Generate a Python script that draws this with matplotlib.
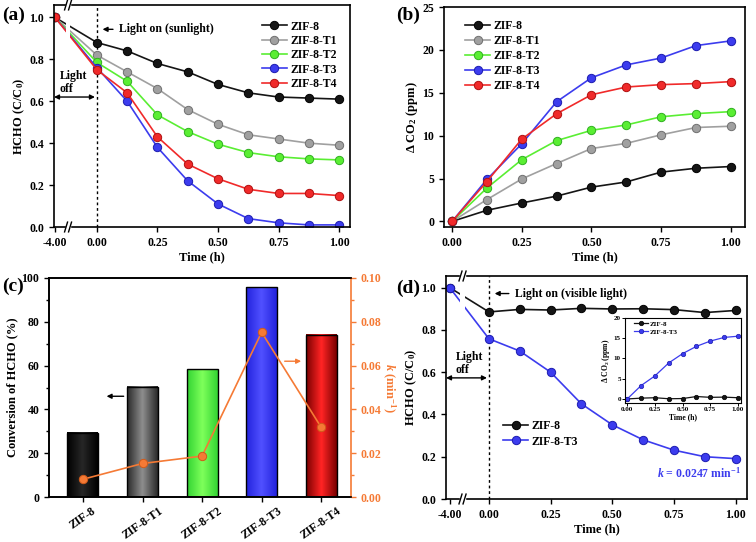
import numpy as np
import matplotlib
matplotlib.use('Agg')
import matplotlib.pyplot as plt
from matplotlib.colors import LinearSegmentedColormap
from matplotlib.patches import Rectangle
from matplotlib.ticker import MultipleLocator

plt.rcParams['font.family'] = 'Liberation Serif'
plt.rcParams['font.weight'] = 'bold'
plt.rcParams['axes.labelweight'] = 'bold'
plt.rcParams['font.size'] = 8.5
plt.rcParams['mathtext.fontset'] = 'custom'
plt.rcParams['mathtext.rm'] = 'Liberation Serif:bold'
plt.rcParams['mathtext.it'] = 'Liberation Serif:italic:bold'
plt.rcParams['mathtext.bf'] = 'Liberation Serif:bold'
plt.rcParams['xtick.direction'] = 'out'
plt.rcParams['ytick.direction'] = 'out'
plt.rcParams['xtick.major.size'] = 3.5
plt.rcParams['ytick.major.size'] = 3.5
plt.rcParams['xtick.major.width'] = 1
plt.rcParams['ytick.major.width'] = 1
plt.rcParams['axes.linewidth'] = 1.2

# ---- data ----
samples = ['ZIF-8', 'ZIF-8-T1', 'ZIF-8-T2', 'ZIF-8-T3', 'ZIF-8-T4']
colors = ['#151515', '#a0a0a0', '#5aee33', '#3c3cee', '#f02a2a']
edges = ['#000000', '#707070', '#30b020', '#1c1cb0', '#b01010']

t_dark = -4.0
t_light = [0, 0.125, 0.25, 0.375, 0.5, 0.625, 0.75, 0.875, 1.0]

# (a) HCHO C/C0 under sunlight, first point is dark (-4 h)
a_zif8 = [1.0, 0.88, 0.84, 0.78, 0.74, 0.68, 0.64, 0.62, 0.615, 0.61]
a_t1 = [1.0, 0.82, 0.74, 0.66, 0.56, 0.49, 0.44, 0.42, 0.40, 0.39]
a_t2 = [1.0, 0.785, 0.695, 0.535, 0.455, 0.395, 0.355, 0.335, 0.325, 0.32]
a_t3 = [1.0, 0.76, 0.60, 0.38, 0.22, 0.11, 0.04, 0.02, 0.01, 0.01]
a_t4 = [1.0, 0.75, 0.64, 0.43, 0.30, 0.23, 0.18, 0.16, 0.16, 0.15]

# (b) delta CO2 (ppm)
b_zif8 = [0, 1.3, 2.15, 2.95, 4.0, 4.6, 5.75, 6.2, 6.4]
b_t1 = [0, 2.55, 4.95, 6.75, 8.5, 9.1, 10.1, 10.95, 11.1]
b_t2 = [0, 3.9, 7.2, 9.42, 10.62, 11.25, 12.2, 12.57, 12.8]
b_t3 = [0, 4.9, 9.05, 13.95, 16.75, 18.25, 19.05, 20.5, 21.05]
b_t4 = [0, 4.65, 9.6, 12.55, 14.77, 15.67, 15.95, 16.07, 16.3]

# (c) conversion and rate constant
conversion = [29.3, 50.4, 58.3, 95.8, 74.2]
k_rate = [0.0081, 0.0153, 0.0187, 0.0752, 0.0318]

# (d) visible light
d_zif8 = [1.0, 0.885, 0.897, 0.894, 0.902, 0.899, 0.900, 0.896, 0.882, 0.892]
d_t3 = [1.0, 0.758, 0.700, 0.600, 0.450, 0.351, 0.280, 0.231, 0.200, 0.191]
ins_zif8 = [0, 0.2, 0.3, 0.05, 0.1, 0.6, 0.4, 0.45, 0.3]
ins_t3 = [0, 3.3, 5.7, 8.9, 11.2, 13.0, 14.3, 15.2, 15.5]

W, H = 756, 542
fig = plt.figure(figsize=(W / 100, H / 100), dpi=100)


def px_axes(l, t, r, b):
    return fig.add_axes([l / W, 1 - b / H, (r - l) / W, (b - t) / H])


def axis_break(ax, xb, gap_data):
    x0, x1 = ax.get_xlim()
    f = (xb - x0) / (x1 - x0)
    g = 0.0135
    ax.axvspan(xb - gap_data / 2, xb + gap_data / 2, color='white', zorder=2.2, lw=0)
    for yy in (0, 1):
        ax.add_patch(Rectangle((f - g / 2, yy - 0.02), g, 0.04, transform=ax.transAxes,
                               color='white', clip_on=False, zorder=5))
        for dx in (-g / 2, g / 2):
            ax.plot([f + dx - 0.005, f + dx + 0.005], [yy - 0.022, yy + 0.022],
                    transform=ax.transAxes, color='k', lw=1, clip_on=False, zorder=6)


def series(ax, x, y, i, label, ms=6):
    ax.plot(x, y, '-o', color=colors[i], lw=1.2, ms=ms, mfc=colors[i],
            mec=edges[i], mew=0.7, label=label, zorder=2)


def light_marks(ax, xd, y_on, x_on_text, text_on, y_off_text, y_off_arrow, x_left, x_off_text):
    ax.axvline(0, color='k', ls=(0, (2, 2)), lw=1, zorder=1)
    ax.annotate('', xy=(0.012, y_on), xytext=(x_on_text - 0.012, y_on),
                arrowprops=dict(arrowstyle='-|>', color='k', lw=1, mutation_scale=7))
    ax.text(x_on_text, y_on, text_on, ha='left', va='center')
    ax.text(x_off_text, y_off_text, 'Light\noff', ha='left', va='center', linespacing=1.05)
    ax.annotate('', xy=(x_left, y_off_arrow), xytext=(-0.008, y_off_arrow),
                arrowprops=dict(arrowstyle='<|-|>', color='k', lw=1, mutation_scale=7,
                                shrinkA=0, shrinkB=0))


# ---------------- (a) ----------------
xa_dark = -0.173
xa = [xa_dark] + t_light
ax = px_axes(54, 5, 350, 227)
for i, (y, lab) in enumerate(zip([a_zif8, a_t1, a_t2, a_t3, a_t4], samples)):
    series(ax, xa, y, i, lab)
ax.set_xlim(-0.177, 1.045)
ax.set_ylim(0, 1.059)
ax.set_xticks([xa_dark, 0, 0.25, 0.5, 0.75, 1.0])
ax.set_xticklabels(['-4.00', '0.00', '0.25', '0.50', '0.75', '1.00'])
ax.set_yticks(np.arange(0, 1.01, 0.2))
ax.set_yticklabels(['%.1f' % v for v in np.arange(0, 1.01, 0.2)])
ax.set_xlabel('Time (h)', fontsize=9, labelpad=2)
ax.set_ylabel('HCHO (C/C$_0$)', fontsize=9, labelpad=2)
light_marks(ax, xa_dark, 0.943, 0.09, 'Light on (sunlight)', 0.69, 0.62, -0.177, -0.153)
axis_break(ax, -0.119, 0.02)
ax.legend(loc='upper left', bbox_to_anchor=(0.703, 0.93), frameon=False, borderpad=0,
          borderaxespad=0, handlelength=2.1, handletextpad=0.3, labelspacing=0.2, fontsize=8.5)
fig.text(2 / W, 1 - 15 / H, '(a)', fontsize=14, va='center', ha='left')

# ---------------- (b) ----------------
ax = px_axes(444, 7, 745, 227)
for i, (y, lab) in enumerate(zip([b_zif8, b_t1, b_t2, b_t3, b_t4], samples)):
    series(ax, t_light, y, i, lab)
ax.set_xlim(-0.029, 1.051)
ax.set_ylim(-0.65, 25)
ax.set_xticks([0, 0.25, 0.5, 0.75, 1.0])
ax.set_xticklabels(['0.00', '0.25', '0.50', '0.75', '1.00'])
ax.set_yticks(range(0, 26, 5))
ax.set_xlabel('Time (h)', fontsize=9, labelpad=2)
ax.set_ylabel('Δ CO$_2$ (ppm)', fontsize=9, labelpad=2)
ax.legend(loc='upper left', bbox_to_anchor=(0.071, 0.94), frameon=False, borderpad=0,
          borderaxespad=0, handlelength=2.1, handletextpad=0.3, labelspacing=0.25, fontsize=8.5)
fig.text(396 / W, 1 - 15 / H, '(b)', fontsize=14, va='center', ha='left')

# ---------------- (c) ----------------
orange = '#f57a35'
ax = px_axes(49, 278, 351, 497)
bar_edge = ['#000000', '#2a2a2a', '#33d433', '#2323dd', '#7a0000']
bar_mid = ['#262626', '#8c8c8c', '#7dff5a', '#5050ff', '#ff2424']
xc = np.arange(len(samples))
bw = 0.52
grad = np.abs(np.linspace(-1, 1, 64))[None, :]
for i, v in enumerate(conversion):
    cm = LinearSegmentedColormap.from_list('g%d' % i, [bar_mid[i], bar_edge[i]])
    ax.imshow(grad, extent=[xc[i] - bw / 2, xc[i] + bw / 2, 0, v], aspect='auto',
              cmap=cm, zorder=2)
ax.bar(xc, conversion, width=bw, color='none', edgecolor='black', lw=1, zorder=3)
ax.set_xlim(-0.57, 4.5)
ax.set_ylim(0, 100)
ax.set_xticks(xc)
ax.set_xticklabels(samples, rotation=35, ha='center', fontsize=8.5)
ax.tick_params(axis='x', pad=2)
ax.set_yticks(range(0, 101, 20))
ax.yaxis.set_minor_locator(MultipleLocator(10))
ax.tick_params(axis='y', which='minor', length=2, width=1)
ax.set_ylabel('Conversion of HCHO (%)', fontsize=9, labelpad=2)
ax.spines['right'].set_visible(False)
ax.annotate('', xy=(0.35, 46), xytext=(0.73, 46),
            arrowprops=dict(arrowstyle='-|>', color='k', lw=1, mutation_scale=7))
ax.annotate('', xy=(3.71, 62), xytext=(3.34, 62),
            arrowprops=dict(arrowstyle='-|>', color=orange, lw=1, mutation_scale=7))
ax2 = ax.twinx()
ax2.plot(xc, k_rate, '-o', color=orange, lw=1.2, ms=6, mfc=orange, mec='#d05a1a', mew=0.7)
ax2.set_ylim(0, 0.10)
ax2.set_yticks(np.arange(0, 0.101, 0.02))
ax2.set_yticklabels(['%.2f' % v for v in np.arange(0, 0.101, 0.02)])
ax2.yaxis.set_minor_locator(MultipleLocator(0.01))
ax2.spines['right'].set_color(orange)
ax2.tick_params(axis='y', which='both', colors=orange)
ax2.tick_params(axis='y', which='minor', length=2, width=1)
ax2.set_ylabel('$k$ (min$^{-1}$)', color=orange, fontsize=9, rotation=270, labelpad=11)
fig.text(2 / W, 1 - 286 / H, '(c)', fontsize=14, va='center', ha='left')

# ---------------- (d) ----------------
xd_dark = -0.159
xd = [xd_dark] + t_light
ax = px_axes(446, 276, 747, 499)
series(ax, xd, d_zif8, 0, 'ZIF-8')
series(ax, xd, d_t3, 3, 'ZIF-8-T3')
ax.set_xlim(-0.174, 1.046)
ax.set_ylim(0, 1.055)
ax.set_xticks([xd_dark, 0, 0.25, 0.5, 0.75, 1.0])
ax.set_xticklabels(['-4.00', '0.00', '0.25', '0.50', '0.75', '1.00'])
ax.set_yticks(np.arange(0, 1.01, 0.2))
ax.set_yticklabels(['%.1f' % v for v in np.arange(0, 1.01, 0.2)])
ax.set_xlabel('Time (h)', fontsize=9, labelpad=2)
ax.set_ylabel('HCHO (C/C$_0$)', fontsize=9, labelpad=2)
light_marks(ax, xd_dark, 0.972, 0.104, 'Light on (visible light)', 0.64, 0.573, -0.174, -0.134)
axis_break(ax, -0.107, 0.02)
ax.legend(loc='upper left', bbox_to_anchor=(0.19, 0.354), frameon=False, borderpad=0,
          borderaxespad=0, handlelength=2.1, handletextpad=0.3, labelspacing=0.3, fontsize=8.5)
ax.text(1.02, 0.12, '$k$ = 0.0247 min$^{-1}$', color='#3c3cee', ha='right', va='center')
fig.text(396 / W, 1 - 288 / H, '(d)', fontsize=14, va='center', ha='left')

# inset
axi = px_axes(625, 318, 741, 403)
axi.plot(t_light, ins_zif8, '-o', color=colors[0], lw=0.9, ms=3.2, mec=edges[0], mew=0.5,
         label='ZIF-8')
axi.plot(t_light, ins_t3, '-o', color=colors[3], lw=0.9, ms=3.2, mec=edges[3], mew=0.5,
         label='ZIF-8-T3')
axi.set_xlim(-0.02, 1.027)
axi.set_ylim(-1.0, 20)
axi.set_xticks([0, 0.25, 0.5, 0.75, 1.0])
axi.set_xticklabels(['0.00', '0.25', '0.50', '0.75', '1.00'])
axi.set_yticks(range(0, 21, 5))
axi.tick_params(labelsize=5, length=2, width=0.7, pad=1)
for s in axi.spines.values():
    s.set_linewidth(0.8)
axi.set_xlabel('Time (h)', fontsize=5.5, labelpad=0.5)
axi.set_ylabel('Δ CO$_2$ (ppm)', fontsize=5.5, labelpad=1)
axi.legend(loc='upper left', bbox_to_anchor=(0.078, 0.965), frameon=False, borderpad=0,
           borderaxespad=0, handlelength=2.0, handletextpad=0.3, labelspacing=0.3, fontsize=5)

fig.savefig('out.png', dpi=100)
